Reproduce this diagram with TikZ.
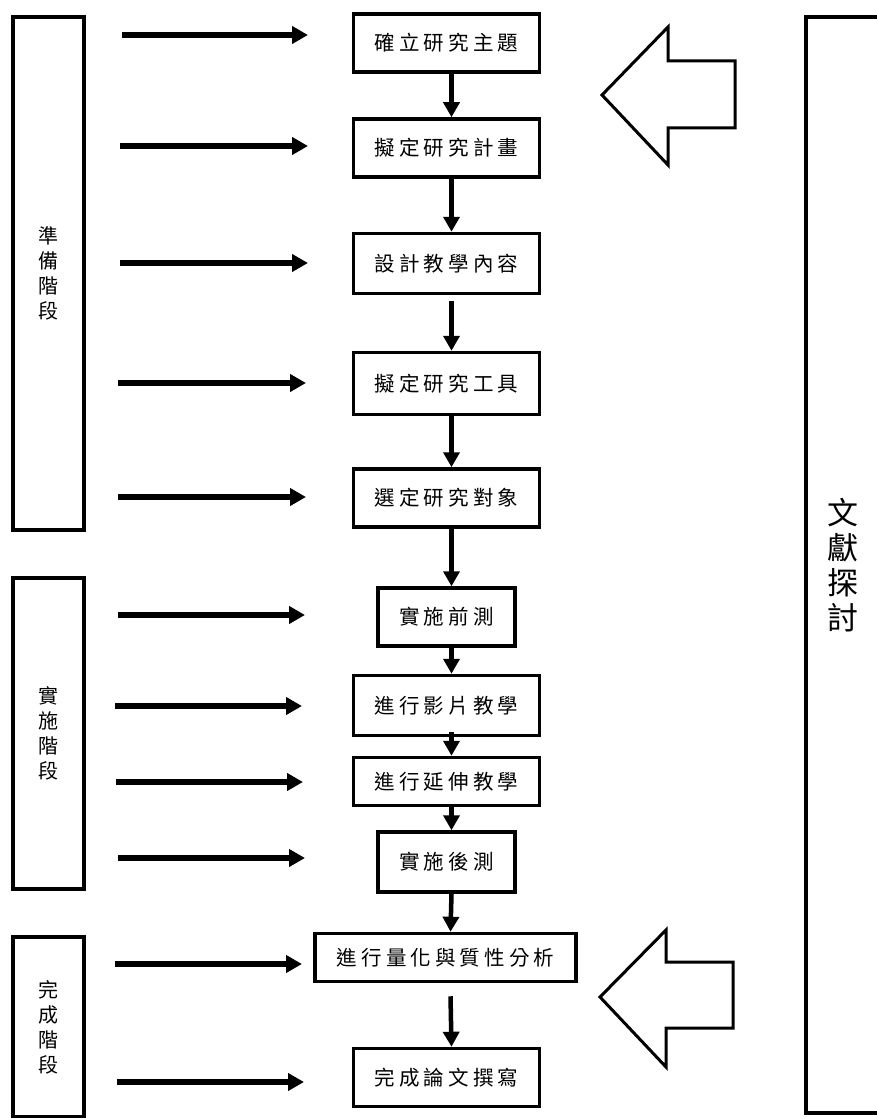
\documentclass[tikz,border=0pt]{standalone}
\usepackage{fontspec}
\newfontfamily\cjk[LetterSpace=20]{Noto Sans CJK TC}
\newfontfamily\cjkv{Noto Sans CJK TC}
\usetikzlibrary{arrows.meta,positioning}

\begin{document}
\begin{tikzpicture}[
    x=1pt, y=-1pt,
    box/.style={rectangle, draw, line width=3.5pt, minimum width=186pt, minimum height=58pt, inner sep=0pt, font=\cjk\fontsize{20.5}{20.5}\selectfont},
    stage/.style={rectangle, draw, line width=3.5pt, minimum width=71pt, inner sep=0pt, align=center, font=\cjkv\fontsize{20}{25}\selectfont},
    arrow/.style={-{Triangle[length=16pt,width=17pt]}, line width=5.5pt},
    flow/.style={-{Triangle[length=15pt,width=16pt]}, line width=4.5pt},
    hollow/.style={draw, line width=3pt, line join=miter}
]
    \useasboundingbox[fill=white] (0,0) rectangle (877,1118);

    % stages on the left
    \node[stage, minimum height=513pt] (prep) at (48.5,273.5) {準\\備\\階\\段};
    \node[stage, minimum height=311pt] (impl) at (48.5,733.5) {實\\施\\階\\段};
    \node[stage, minimum height=180pt] (done) at (48.5,1027) {完\\成\\階\\段};

    % literature review box on the right
    \node[rectangle, draw, line width=3.5pt, minimum width=74pt, minimum height=1096pt, inner sep=0pt, align=center, font=\cjkv\fontsize{31}{35}\selectfont] (lit) at (843,565) {文\\獻\\探\\討};

    % main flow
    \node[box] (topic) at (446.5,43) {確立研究主題};
    \node[box] (plan) at (446.5,148) {擬定研究計畫};
    \node[box, minimum height=60pt] (design) at (446.5,263.5) {設計教學內容};
    \node[box, minimum height=62pt] (tool) at (446.5,383.5) {擬定研究工具};
    \node[box] (subj) at (446.5,498) {選定研究對象};
    \node[box, minimum width=137pt] (pre) at (446.5,617) {實施前測};
    \node[box, minimum height=60pt] (video) at (446.5,705.5) {進行影片教學};
    \node[box, minimum height=48pt] (ext) at (446.5,781.5) {進行延伸教學};
    \node[box, minimum width=137pt, minimum height=60pt] (post) at (446.5,862) {實施後測};
    \node[box, minimum width=261pt, minimum height=48pt] (anal) at (445.5,957.5) {進行量化與質性分析};
    \node[box, minimum height=58pt] (write) at (446.5,1077.5) {完成論文撰寫};

    \draw[flow] ([xshift=5pt]topic.south) -- ([xshift=5pt]plan.north);
    \draw[flow] ([xshift=5pt]plan.south) -- ([xshift=5pt]design.north);
    \draw[flow] ([xshift=5pt,yshift=-6pt]design.south) -- ([xshift=5pt]tool.north);
    \draw[flow] ([xshift=5pt]tool.south) -- ([xshift=5pt]subj.north);
    \draw[flow] ([xshift=5pt]subj.south) -- ([xshift=5pt]pre.north);
    \draw[flow] ([xshift=5pt]pre.south) -- ([xshift=5pt]video.north);
    \draw[flow] ([xshift=5pt,yshift=5pt]video.south) -- ([xshift=5pt]ext.north);
    \draw[flow] ([xshift=5pt]ext.south) -- ([xshift=5pt]post.north);
    \draw[flow] ([xshift=5pt]post.south) -- ([xshift=5pt]anal.north);
    \draw[flow] ([xshift=5pt,yshift=-13pt]anal.south) -- ([xshift=5pt]write.north);

    % arrows from the stages
    \foreach \y/\a/\b [count=\i] in {35/122/308, 146/120/308, 263/120/308, 383/118/306, 497/118/306,
                                     615/118/305, 706/115/302, 782/116/303, 858/118/305, 964/115/302, 1082/117/304} {
        \coordinate (s\i) at (\a,\y);
        \coordinate (t\i) at (\b,\y);
        \draw[arrow] (s\i) -- (t\i);
    }

    % hollow block arrows
    \draw[hollow] (602,95) -- (668,27) -- (668,61) -- (735,61) -- (735,128) -- (668,128) -- (668,165) -- cycle;
    \draw[hollow] (600,997) -- (666,930) -- (666,962) -- (733,962) -- (733,1028) -- (666,1028) -- (666,1067) -- cycle;
\end{tikzpicture}
\end{document}
